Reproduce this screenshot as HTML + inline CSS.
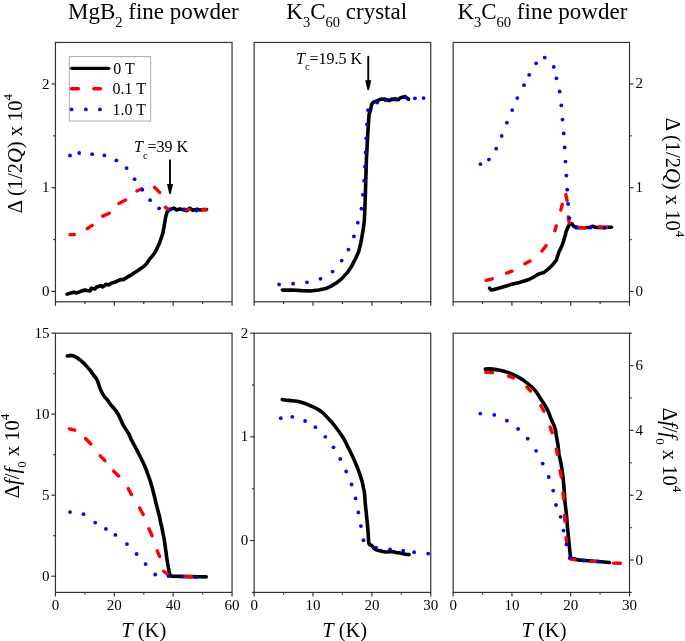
<!DOCTYPE html>
<html><head><meta charset="utf-8"><title>Figure</title>
<style>
html,body{margin:0;padding:0;background:#fff;}
body{width:685px;height:641px;overflow:hidden;}
svg{display:block;font-family:"Liberation Serif", serif;will-change:transform;}
text{fill:#000;}
</style></head>
<body>
<svg width="685" height="641" viewBox="0 0 685 641">
<rect x="0" y="0" width="685" height="641" fill="#fff"/>
<g id="frames">
<rect x="55.45" y="42.45" width="176.6" height="259.35" fill="none" stroke="#333" stroke-width="1.2"/>
<rect x="55.45" y="333.2" width="176.6" height="259.2" fill="none" stroke="#333" stroke-width="1.2"/>
<rect x="254.15" y="42.45" width="176.6" height="259.35" fill="none" stroke="#333" stroke-width="1.2"/>
<rect x="254.15" y="333.2" width="176.6" height="259.2" fill="none" stroke="#333" stroke-width="1.2"/>
<rect x="453.15" y="42.45" width="176.35" height="259.35" fill="none" stroke="#333" stroke-width="1.2"/>
<rect x="453.15" y="333.2" width="176.35" height="259.2" fill="none" stroke="#333" stroke-width="1.2"/>
<line x1="55.45" y1="301.8" x2="55.45" y2="305.8" stroke="#333" stroke-width="1.2" stroke-linecap="butt"/>
<line x1="114.32" y1="301.8" x2="114.32" y2="305.8" stroke="#333" stroke-width="1.2" stroke-linecap="butt"/>
<line x1="173.18" y1="301.8" x2="173.18" y2="305.8" stroke="#333" stroke-width="1.2" stroke-linecap="butt"/>
<line x1="232.05" y1="301.8" x2="232.05" y2="305.8" stroke="#333" stroke-width="1.2" stroke-linecap="butt"/>
<line x1="84.88" y1="301.8" x2="84.88" y2="304.0" stroke="#333" stroke-width="1.2" stroke-linecap="butt"/>
<line x1="143.75" y1="301.8" x2="143.75" y2="304.0" stroke="#333" stroke-width="1.2" stroke-linecap="butt"/>
<line x1="202.62" y1="301.8" x2="202.62" y2="304.0" stroke="#333" stroke-width="1.2" stroke-linecap="butt"/>
<line x1="254.15" y1="301.8" x2="254.15" y2="305.8" stroke="#333" stroke-width="1.2" stroke-linecap="butt"/>
<line x1="313.02" y1="301.8" x2="313.02" y2="305.8" stroke="#333" stroke-width="1.2" stroke-linecap="butt"/>
<line x1="371.88" y1="301.8" x2="371.88" y2="305.8" stroke="#333" stroke-width="1.2" stroke-linecap="butt"/>
<line x1="430.75" y1="301.8" x2="430.75" y2="305.8" stroke="#333" stroke-width="1.2" stroke-linecap="butt"/>
<line x1="283.58" y1="301.8" x2="283.58" y2="304.0" stroke="#333" stroke-width="1.2" stroke-linecap="butt"/>
<line x1="342.45" y1="301.8" x2="342.45" y2="304.0" stroke="#333" stroke-width="1.2" stroke-linecap="butt"/>
<line x1="401.32" y1="301.8" x2="401.32" y2="304.0" stroke="#333" stroke-width="1.2" stroke-linecap="butt"/>
<line x1="453.15" y1="301.8" x2="453.15" y2="305.8" stroke="#333" stroke-width="1.2" stroke-linecap="butt"/>
<line x1="511.93" y1="301.8" x2="511.93" y2="305.8" stroke="#333" stroke-width="1.2" stroke-linecap="butt"/>
<line x1="570.72" y1="301.8" x2="570.72" y2="305.8" stroke="#333" stroke-width="1.2" stroke-linecap="butt"/>
<line x1="629.5" y1="301.8" x2="629.5" y2="305.8" stroke="#333" stroke-width="1.2" stroke-linecap="butt"/>
<line x1="482.54" y1="301.8" x2="482.54" y2="304.0" stroke="#333" stroke-width="1.2" stroke-linecap="butt"/>
<line x1="541.33" y1="301.8" x2="541.33" y2="304.0" stroke="#333" stroke-width="1.2" stroke-linecap="butt"/>
<line x1="600.11" y1="301.8" x2="600.11" y2="304.0" stroke="#333" stroke-width="1.2" stroke-linecap="butt"/>
<line x1="55.45" y1="592.4" x2="55.45" y2="596.4" stroke="#333" stroke-width="1.2" stroke-linecap="butt"/>
<text x="55.45" y="609.7" font-size="15" text-anchor="middle" >0</text>
<line x1="114.32" y1="592.4" x2="114.32" y2="596.4" stroke="#333" stroke-width="1.2" stroke-linecap="butt"/>
<text x="114.32" y="609.7" font-size="15" text-anchor="middle" >20</text>
<line x1="173.18" y1="592.4" x2="173.18" y2="596.4" stroke="#333" stroke-width="1.2" stroke-linecap="butt"/>
<text x="173.18" y="609.7" font-size="15" text-anchor="middle" >40</text>
<line x1="232.05" y1="592.4" x2="232.05" y2="596.4" stroke="#333" stroke-width="1.2" stroke-linecap="butt"/>
<text x="232.05" y="609.7" font-size="15" text-anchor="middle" >60</text>
<line x1="84.88" y1="592.4" x2="84.88" y2="594.6" stroke="#333" stroke-width="1.2" stroke-linecap="butt"/>
<line x1="143.75" y1="592.4" x2="143.75" y2="594.6" stroke="#333" stroke-width="1.2" stroke-linecap="butt"/>
<line x1="202.62" y1="592.4" x2="202.62" y2="594.6" stroke="#333" stroke-width="1.2" stroke-linecap="butt"/>
<line x1="254.15" y1="592.4" x2="254.15" y2="596.4" stroke="#333" stroke-width="1.2" stroke-linecap="butt"/>
<text x="254.15" y="609.7" font-size="15" text-anchor="middle" >0</text>
<line x1="313.02" y1="592.4" x2="313.02" y2="596.4" stroke="#333" stroke-width="1.2" stroke-linecap="butt"/>
<text x="313.02" y="609.7" font-size="15" text-anchor="middle" >10</text>
<line x1="371.88" y1="592.4" x2="371.88" y2="596.4" stroke="#333" stroke-width="1.2" stroke-linecap="butt"/>
<text x="371.88" y="609.7" font-size="15" text-anchor="middle" >20</text>
<line x1="430.75" y1="592.4" x2="430.75" y2="596.4" stroke="#333" stroke-width="1.2" stroke-linecap="butt"/>
<text x="430.75" y="609.7" font-size="15" text-anchor="middle" >30</text>
<line x1="283.58" y1="592.4" x2="283.58" y2="594.6" stroke="#333" stroke-width="1.2" stroke-linecap="butt"/>
<line x1="342.45" y1="592.4" x2="342.45" y2="594.6" stroke="#333" stroke-width="1.2" stroke-linecap="butt"/>
<line x1="401.32" y1="592.4" x2="401.32" y2="594.6" stroke="#333" stroke-width="1.2" stroke-linecap="butt"/>
<line x1="453.15" y1="592.4" x2="453.15" y2="596.4" stroke="#333" stroke-width="1.2" stroke-linecap="butt"/>
<text x="453.15" y="609.7" font-size="15" text-anchor="middle" >0</text>
<line x1="511.93" y1="592.4" x2="511.93" y2="596.4" stroke="#333" stroke-width="1.2" stroke-linecap="butt"/>
<text x="511.93" y="609.7" font-size="15" text-anchor="middle" >10</text>
<line x1="570.72" y1="592.4" x2="570.72" y2="596.4" stroke="#333" stroke-width="1.2" stroke-linecap="butt"/>
<text x="570.72" y="609.7" font-size="15" text-anchor="middle" >20</text>
<line x1="629.5" y1="592.4" x2="629.5" y2="596.4" stroke="#333" stroke-width="1.2" stroke-linecap="butt"/>
<text x="629.5" y="609.7" font-size="15" text-anchor="middle" >30</text>
<line x1="482.54" y1="592.4" x2="482.54" y2="594.6" stroke="#333" stroke-width="1.2" stroke-linecap="butt"/>
<line x1="541.33" y1="592.4" x2="541.33" y2="594.6" stroke="#333" stroke-width="1.2" stroke-linecap="butt"/>
<line x1="600.11" y1="592.4" x2="600.11" y2="594.6" stroke="#333" stroke-width="1.2" stroke-linecap="butt"/>
<line x1="55.45" y1="291.43" x2="51.45" y2="291.43" stroke="#333" stroke-width="1.2" stroke-linecap="butt"/>
<text x="49.45" y="296.03" font-size="15" text-anchor="end" >0</text>
<line x1="55.45" y1="187.69" x2="51.45" y2="187.69" stroke="#333" stroke-width="1.2" stroke-linecap="butt"/>
<text x="49.45" y="192.29" font-size="15" text-anchor="end" >1</text>
<line x1="55.45" y1="83.95" x2="51.45" y2="83.95" stroke="#333" stroke-width="1.2" stroke-linecap="butt"/>
<text x="49.45" y="88.55" font-size="15" text-anchor="end" >2</text>
<line x1="55.45" y1="239.56" x2="53.25" y2="239.56" stroke="#333" stroke-width="1.2" stroke-linecap="butt"/>
<line x1="55.45" y1="135.82" x2="53.25" y2="135.82" stroke="#333" stroke-width="1.2" stroke-linecap="butt"/>
<line x1="629.5" y1="291.43" x2="633.5" y2="291.43" stroke="#333" stroke-width="1.2" stroke-linecap="butt"/>
<text x="635.4" y="295.93" font-size="15" text-anchor="start" >0</text>
<line x1="629.5" y1="187.69" x2="633.5" y2="187.69" stroke="#333" stroke-width="1.2" stroke-linecap="butt"/>
<text x="635.4" y="192.19" font-size="15" text-anchor="start" >1</text>
<line x1="629.5" y1="83.95" x2="633.5" y2="83.95" stroke="#333" stroke-width="1.2" stroke-linecap="butt"/>
<text x="635.4" y="88.45" font-size="15" text-anchor="start" >2</text>
<line x1="629.5" y1="239.56" x2="631.7" y2="239.56" stroke="#333" stroke-width="1.2" stroke-linecap="butt"/>
<line x1="629.5" y1="135.82" x2="631.7" y2="135.82" stroke="#333" stroke-width="1.2" stroke-linecap="butt"/>
<line x1="55.45" y1="576.2" x2="51.45" y2="576.2" stroke="#333" stroke-width="1.2" stroke-linecap="butt"/>
<text x="49.45" y="580.8" font-size="15" text-anchor="end" >0</text>
<line x1="55.45" y1="495.2" x2="51.45" y2="495.2" stroke="#333" stroke-width="1.2" stroke-linecap="butt"/>
<text x="49.45" y="499.8" font-size="15" text-anchor="end" >5</text>
<line x1="55.45" y1="414.2" x2="51.45" y2="414.2" stroke="#333" stroke-width="1.2" stroke-linecap="butt"/>
<text x="49.45" y="418.8" font-size="15" text-anchor="end" >10</text>
<line x1="55.45" y1="333.2" x2="51.45" y2="333.2" stroke="#333" stroke-width="1.2" stroke-linecap="butt"/>
<text x="49.45" y="337.8" font-size="15" text-anchor="end" >15</text>
<line x1="55.45" y1="535.7" x2="53.25" y2="535.7" stroke="#333" stroke-width="1.2" stroke-linecap="butt"/>
<line x1="55.45" y1="454.7" x2="53.25" y2="454.7" stroke="#333" stroke-width="1.2" stroke-linecap="butt"/>
<line x1="55.45" y1="373.7" x2="53.25" y2="373.7" stroke="#333" stroke-width="1.2" stroke-linecap="butt"/>
<line x1="254.15" y1="540.56" x2="250.15" y2="540.56" stroke="#333" stroke-width="1.2" stroke-linecap="butt"/>
<text x="248.15" y="545.16" font-size="15" text-anchor="end" >0</text>
<line x1="254.15" y1="436.88" x2="250.15" y2="436.88" stroke="#333" stroke-width="1.2" stroke-linecap="butt"/>
<text x="248.15" y="441.48" font-size="15" text-anchor="end" >1</text>
<line x1="254.15" y1="333.2" x2="250.15" y2="333.2" stroke="#333" stroke-width="1.2" stroke-linecap="butt"/>
<text x="248.15" y="337.8" font-size="15" text-anchor="end" >2</text>
<line x1="254.15" y1="592.4" x2="251.95" y2="592.4" stroke="#333" stroke-width="1.2" stroke-linecap="butt"/>
<line x1="254.15" y1="488.72" x2="251.95" y2="488.72" stroke="#333" stroke-width="1.2" stroke-linecap="butt"/>
<line x1="254.15" y1="385.04" x2="251.95" y2="385.04" stroke="#333" stroke-width="1.2" stroke-linecap="butt"/>
<line x1="629.5" y1="560.0" x2="633.5" y2="560.0" stroke="#333" stroke-width="1.2" stroke-linecap="butt"/>
<text x="635.4" y="564.5" font-size="15" text-anchor="start" >0</text>
<line x1="629.5" y1="495.2" x2="633.5" y2="495.2" stroke="#333" stroke-width="1.2" stroke-linecap="butt"/>
<text x="635.4" y="499.7" font-size="15" text-anchor="start" >2</text>
<line x1="629.5" y1="430.4" x2="633.5" y2="430.4" stroke="#333" stroke-width="1.2" stroke-linecap="butt"/>
<text x="635.4" y="434.9" font-size="15" text-anchor="start" >4</text>
<line x1="629.5" y1="365.6" x2="633.5" y2="365.6" stroke="#333" stroke-width="1.2" stroke-linecap="butt"/>
<text x="635.4" y="370.1" font-size="15" text-anchor="start" >6</text>
<line x1="629.5" y1="592.4" x2="631.7" y2="592.4" stroke="#333" stroke-width="1.2" stroke-linecap="butt"/>
<line x1="629.5" y1="527.6" x2="631.7" y2="527.6" stroke="#333" stroke-width="1.2" stroke-linecap="butt"/>
<line x1="629.5" y1="462.8" x2="631.7" y2="462.8" stroke="#333" stroke-width="1.2" stroke-linecap="butt"/>
<line x1="629.5" y1="398.0" x2="631.7" y2="398.0" stroke="#333" stroke-width="1.2" stroke-linecap="butt"/>
<line x1="629.5" y1="333.2" x2="631.7" y2="333.2" stroke="#333" stroke-width="1.2" stroke-linecap="butt"/>
</g>
<g id="titles">
<text x="68.0" y="19.2" font-size="23" text-anchor="start" >MgB<tspan font-size="14.5" dy="8.2">2</tspan><tspan dy="-8.2"> fine powder</tspan></text>
<text x="286.3" y="19.2" font-size="23" text-anchor="start" >K<tspan font-size="14.5" dy="8.2">3</tspan><tspan dy="-8.2">C</tspan><tspan font-size="14.5" dy="8.2">60</tspan><tspan dy="-8.2"> crystal</tspan></text>
<text x="457.4" y="19.2" font-size="23" text-anchor="start" >K<tspan font-size="14.5" dy="8.2">3</tspan><tspan dy="-8.2">C</tspan><tspan font-size="14.5" dy="8.2">60</tspan><tspan dy="-8.2"> fine powder</tspan></text>
<text x="143.75" y="636.5" font-size="20.5" text-anchor="middle" ><tspan font-style="italic">T</tspan> (K)</text>
<text x="344.65" y="636.5" font-size="20.5" text-anchor="middle" ><tspan font-style="italic">T</tspan> (K)</text>
<text x="544.03" y="636.5" font-size="20.5" text-anchor="middle" ><tspan font-style="italic">T</tspan> (K)</text>
<text transform="translate(22.4,153.6) rotate(-90)" font-size="20.5" text-anchor="middle">&#916; (1/2<tspan font-style="italic">Q</tspan>) x 10<tspan font-size="13" dy="-10">4</tspan></text>
<text transform="translate(666,177.5) rotate(90)" font-size="20.5" text-anchor="middle">&#916; (1/2<tspan font-style="italic">Q</tspan>) x 10<tspan font-size="13" dy="-10">4</tspan></text>
<text transform="translate(18.7,456) rotate(-90)" font-size="20.5" text-anchor="middle">&#916;<tspan font-style="italic">f</tspan>/<tspan font-style="italic">f</tspan><tspan font-size="13" dy="7.5">0</tspan><tspan dy="-7.5"> x 10</tspan><tspan font-size="13" dy="-10">4</tspan></text>
<text transform="translate(663,450) rotate(90)" font-size="20.5" text-anchor="middle">&#916;<tspan font-style="italic">f</tspan>/<tspan font-style="italic">f</tspan><tspan font-size="13" dy="7.5">0</tspan><tspan dy="-7.5"> x 10</tspan><tspan font-size="13" dy="-10">4</tspan></text>
</g>
<g id="legend">
<rect x="69.3" y="56.6" width="81.4" height="64.4" fill="none" stroke="#aaa" stroke-width="1.0"/>
<line x1="71.6" y1="68.35" x2="108.8" y2="68.35" stroke="#000" stroke-width="3.3" stroke-linecap="round"/>
<line x1="71.45" y1="88.75" x2="78.4" y2="88.75" stroke="#f00" stroke-width="3.4" stroke-linecap="round"/>
<line x1="93.8" y1="88.75" x2="100.55" y2="88.75" stroke="#f00" stroke-width="3.4" stroke-linecap="round"/>
<circle cx="71.6" cy="109.4" r="1.9" fill="#00f"/>
<circle cx="85.9" cy="109.4" r="1.9" fill="#00f"/>
<circle cx="99.9" cy="109.4" r="1.9" fill="#00f"/>
<text x="113.2" y="73.9" font-size="16" text-anchor="start" >0 T</text>
<text x="112.6" y="94.4" font-size="16" text-anchor="start" >0.1 T</text>
<text x="112.6" y="114.6" font-size="16" text-anchor="start" >1.0 T</text>
</g>
<g id="tc">
<text x="134.0" y="152.3" font-size="16" text-anchor="start" ><tspan font-style="italic">T</tspan><tspan font-size="10.5" dy="6.3">c</tspan><tspan dy="-6.3">=39 K</tspan></text>
<line x1="170.0" y1="160.2" x2="170.0" y2="186" stroke="#000" stroke-width="1.9" stroke-linecap="round"/>
<path d="M167,184.1 L173,184.1 L170.7,193.9 L169.3,193.9 Z" fill="#000"/>
<text x="296.0" y="64.1" font-size="16" text-anchor="start" ><tspan font-style="italic">T</tspan><tspan font-size="10.5" dy="6.3">c</tspan><tspan dy="-6.3">=19.5 K</tspan></text>
<line x1="368.25" y1="56.8" x2="368.25" y2="82" stroke="#000" stroke-width="1.9" stroke-linecap="round"/>
<path d="M365.2,80.2 L371.3,80.2 L369,90 L367.5,90 Z" fill="#000"/>
</g>
<g id="data">
<polyline points="67.1,294.1 70.0,293.2 73.7,292.3 76.2,293.0 79.5,291.9 83.9,290.1 86.8,290.4 90.1,291.0 91.2,288.4 94.8,289.0 96.3,287.3 100.7,285.7 102.9,286.9 105.8,284.3 108.7,284.9 111.8,283.0 115.3,282.1 120.4,279.6 123.3,279.6 127.0,277.4 131.4,274.8 135.7,271.9 140.1,269.0 143.8,266.4 146.7,263.5 149.6,259.1 152.5,255.8 155.1,252.2 156.5,249.5 159.2,243.8 161.3,237.8 163.0,232.6 163.9,227.5 164.9,221.5 166.0,215.5 167.5,211.2 169.9,209.4 173.8,208.1 176.7,210.0 179.6,208.9 182.5,209.6 186.9,210.7 189.8,208.1 192.7,210.3 197.1,209.2 200.0,210.0 203.0,209.6 206.6,209.6" fill="none" stroke="#000" stroke-width="3.6" stroke-linejoin="round" stroke-linecap="round"/>
<line x1="70.0" y1="234.59" x2="74.4" y2="234.51" stroke="#f00" stroke-width="3.4" stroke-linecap="round"/>
<line x1="87.19" y1="228.59" x2="92.21" y2="225.41" stroke="#f00" stroke-width="3.4" stroke-linecap="round"/>
<line x1="102.67" y1="216.14" x2="109.28" y2="213.26" stroke="#f00" stroke-width="3.4" stroke-linecap="round"/>
<line x1="118.95" y1="203.42" x2="125.55" y2="199.98" stroke="#f00" stroke-width="3.4" stroke-linecap="round"/>
<line x1="136.87" y1="190.94" x2="141.83" y2="188.76" stroke="#f00" stroke-width="3.4" stroke-linecap="round"/>
<line x1="154.58" y1="187.38" x2="159.72" y2="192.52" stroke="#f00" stroke-width="3.4" stroke-linecap="round"/>
<line x1="165.33" y1="207.23" x2="168.27" y2="209.27" stroke="#f00" stroke-width="3.4" stroke-linecap="round"/>
<line x1="183.9" y1="209.51" x2="189.4" y2="209.59" stroke="#f00" stroke-width="3.4" stroke-linecap="round"/>
<line x1="202.4" y1="209.6" x2="206.3" y2="209.6" stroke="#f00" stroke-width="3.4" stroke-linecap="round"/>
<circle cx="70.0" cy="155.5" r="1.9" fill="#00f"/>
<circle cx="79.2" cy="153.0" r="1.9" fill="#00f"/>
<circle cx="92.2" cy="154.2" r="1.9" fill="#00f"/>
<circle cx="104.4" cy="155.4" r="1.9" fill="#00f"/>
<circle cx="116.4" cy="160.4" r="1.9" fill="#00f"/>
<circle cx="126.6" cy="168.1" r="1.9" fill="#00f"/>
<circle cx="134.6" cy="179.2" r="1.9" fill="#00f"/>
<circle cx="142.3" cy="189.8" r="1.9" fill="#00f"/>
<circle cx="150.1" cy="200.2" r="1.9" fill="#00f"/>
<circle cx="159.1" cy="208.3" r="1.9" fill="#00f"/>
<circle cx="170.6" cy="209.6" r="1.9" fill="#00f"/>
<circle cx="184.3" cy="209.3" r="1.9" fill="#00f"/>
<circle cx="196.5" cy="210.5" r="1.9" fill="#00f"/>
<polyline points="282.4,290.1 292.5,290.0 301.3,290.6 310.0,291.0 318.8,290.0 325.8,288.6 331.1,286.1 336.6,282.8 342.0,278.4 347.5,272.4 351.8,265.9 355.7,258.2 358.6,251.7 360.6,244.0 362.0,236.4 363.3,228.7 364.4,220.0 365.2,200.0 365.8,180.0 366.4,160.0 367.5,139.1 368.3,124.9 369.1,114.0 370.6,110.0 371.6,104.5 373.2,102.2 376.1,101.3 380.5,99.2 384.9,99.1 389.3,100.6 391.9,99.1 395.4,99.4 398.0,99.8 400.6,97.7 405.0,96.6 408.5,99.3" fill="none" stroke="#000" stroke-width="3.6" stroke-linejoin="round" stroke-linecap="round"/>
<circle cx="279.1" cy="284.4" r="1.9" fill="#00f"/>
<circle cx="293.1" cy="283.7" r="1.9" fill="#00f"/>
<circle cx="307" cy="282.3" r="1.9" fill="#00f"/>
<circle cx="320.5" cy="278.8" r="1.9" fill="#00f"/>
<circle cx="332.6" cy="271.6" r="1.9" fill="#00f"/>
<circle cx="341.7" cy="260.6" r="1.9" fill="#00f"/>
<circle cx="348.4" cy="249.6" r="1.9" fill="#00f"/>
<circle cx="353.9" cy="236.4" r="1.9" fill="#00f"/>
<circle cx="357.8" cy="222.7" r="1.9" fill="#00f"/>
<circle cx="361.4" cy="208.7" r="1.9" fill="#00f"/>
<circle cx="362.9" cy="194.7" r="1.9" fill="#00f"/>
<circle cx="364.1" cy="180.7" r="1.9" fill="#00f"/>
<circle cx="364.9" cy="166.7" r="1.9" fill="#00f"/>
<circle cx="365.6" cy="152.5" r="1.9" fill="#00f"/>
<circle cx="366.3" cy="138.3" r="1.9" fill="#00f"/>
<circle cx="366.9" cy="124.3" r="1.9" fill="#00f"/>
<circle cx="368.0" cy="110.2" r="1.9" fill="#00f"/>
<circle cx="377.2" cy="102.5" r="1.9" fill="#00f"/>
<circle cx="385.6" cy="100.3" r="1.9" fill="#00f"/>
<circle cx="395.4" cy="98.6" r="1.9" fill="#00f"/>
<circle cx="405.5" cy="97.2" r="1.9" fill="#00f"/>
<circle cx="414.9" cy="98.3" r="1.9" fill="#00f"/>
<circle cx="423.6" cy="98.1" r="1.9" fill="#00f"/>
<polyline points="489.6,288.2 491.0,290.0 493.1,289.8 501.9,287.2 510.6,284.6 519.4,282.4 528.2,279.8 531.9,278.0 536.6,275.2 540.3,273.4 544.0,272.4 548.7,268.7 552.5,264.9 556.2,260.3 558.1,254.6 559.0,251.8 560.9,248.1 562.8,243.4 564.2,238.7 565.4,235.0 565.6,233.1 567.0,229.4 569.3,224.7 571.7,223.7 574.0,226.6 578.0,227.6 584.0,227.8 590.0,227.3 592.6,226.2 596.0,227.5 600.0,227.4 604.0,227.8 608.0,227.2 611.6,227.3" fill="none" stroke="#000" stroke-width="3.6" stroke-linejoin="round" stroke-linecap="round"/>
<line x1="486.09" y1="280.4" x2="492.31" y2="278.8" stroke="#f00" stroke-width="3.4" stroke-linecap="round"/>
<line x1="506.68" y1="273.06" x2="512.02" y2="271.14" stroke="#f00" stroke-width="3.4" stroke-linecap="round"/>
<line x1="524.85" y1="263.81" x2="530.05" y2="261.09" stroke="#f00" stroke-width="3.4" stroke-linecap="round"/>
<line x1="541.94" y1="251.08" x2="546.16" y2="245.62" stroke="#f00" stroke-width="3.4" stroke-linecap="round"/>
<line x1="554.82" y1="230.72" x2="556.28" y2="225.88" stroke="#f00" stroke-width="3.4" stroke-linecap="round"/>
<line x1="560.8" y1="210.11" x2="562.3" y2="204.29" stroke="#f00" stroke-width="3.4" stroke-linecap="round"/>
<line x1="565.79" y1="194.59" x2="567.11" y2="200.61" stroke="#f00" stroke-width="3.4" stroke-linecap="round"/>
<line x1="568.26" y1="216.89" x2="569.24" y2="222.91" stroke="#f00" stroke-width="3.4" stroke-linecap="round"/>
<line x1="579.2" y1="227.42" x2="584.9" y2="227.78" stroke="#f00" stroke-width="3.4" stroke-linecap="round"/>
<line x1="599.6" y1="227.01" x2="606.8" y2="227.29" stroke="#f00" stroke-width="3.4" stroke-linecap="round"/>
<circle cx="480.4" cy="164.1" r="1.9" fill="#00f"/>
<circle cx="488.9" cy="159.6" r="1.9" fill="#00f"/>
<circle cx="496.2" cy="148.7" r="1.9" fill="#00f"/>
<circle cx="501.7" cy="135.9" r="1.9" fill="#00f"/>
<circle cx="506.9" cy="122.7" r="1.9" fill="#00f"/>
<circle cx="512.2" cy="110.1" r="1.9" fill="#00f"/>
<circle cx="517.3" cy="98.1" r="1.9" fill="#00f"/>
<circle cx="524" cy="85.2" r="1.9" fill="#00f"/>
<circle cx="529.2" cy="74.8" r="1.9" fill="#00f"/>
<circle cx="536.1" cy="63.3" r="1.9" fill="#00f"/>
<circle cx="544.7" cy="57.6" r="1.9" fill="#00f"/>
<circle cx="553.8" cy="66.9" r="1.9" fill="#00f"/>
<circle cx="556.4" cy="78.3" r="1.9" fill="#00f"/>
<circle cx="559.7" cy="91.5" r="1.9" fill="#00f"/>
<circle cx="561.3" cy="105.4" r="1.9" fill="#00f"/>
<circle cx="562.5" cy="119.6" r="1.9" fill="#00f"/>
<circle cx="563.7" cy="133.4" r="1.9" fill="#00f"/>
<circle cx="564.7" cy="147.4" r="1.9" fill="#00f"/>
<circle cx="565.5" cy="161.6" r="1.9" fill="#00f"/>
<circle cx="566.4" cy="175.6" r="1.9" fill="#00f"/>
<circle cx="567.2" cy="189.7" r="1.9" fill="#00f"/>
<circle cx="568.1" cy="204" r="1.9" fill="#00f"/>
<circle cx="569.5" cy="218.1" r="1.9" fill="#00f"/>
<circle cx="576.2" cy="227.7" r="1.9" fill="#00f"/>
<circle cx="590.2" cy="227.7" r="1.9" fill="#00f"/>
<circle cx="604.4" cy="227.7" r="1.9" fill="#00f"/>
<polyline points="67.3,356.1 70.1,355.4 73.2,355.8 77.0,357.7 80.8,360.5 84.5,363.9 87.6,367.4 90.8,371.1 93.9,375.5 96.4,378.6 98.3,383.0 100.0,388.5 102.2,393.1 104.4,396.6 107.5,400.0 110.0,403.8 113.1,407.5 116.2,411.2 118.6,415.0 120.9,420.0 123.1,425.0 125.9,429.4 128.8,433.8 130.9,438.8 133.8,444.4 136.7,449.6 140.0,456.2 143.1,462.5 145.9,468.8 148.1,475.0 150.3,481.2 152.4,488.5 154.7,497.5 156.2,503.8 157.8,510.0 159.4,516.2 160.6,522.5 161.6,526.2 162.8,532.5 164.1,538.8 165.0,545.0 165.9,551.2 166.7,557.5 167.7,563.8 169.0,570.8 170.1,575.6 172.0,576.3 180.0,576.4 190.0,576.6 200.0,576.8 206.2,576.9" fill="none" stroke="#000" stroke-width="3.6" stroke-linejoin="round" stroke-linecap="round"/>
<line x1="69.39" y1="428.89" x2="74.81" y2="430.21" stroke="#f00" stroke-width="3.4" stroke-linecap="round"/>
<line x1="85.58" y1="438.49" x2="90.82" y2="444.01" stroke="#f00" stroke-width="3.4" stroke-linecap="round"/>
<line x1="100.19" y1="455.88" x2="104.91" y2="460.52" stroke="#f00" stroke-width="3.4" stroke-linecap="round"/>
<line x1="113.69" y1="471.17" x2="118.71" y2="475.93" stroke="#f00" stroke-width="3.4" stroke-linecap="round"/>
<line x1="128.2" y1="488.65" x2="131.5" y2="494.55" stroke="#f00" stroke-width="3.4" stroke-linecap="round"/>
<line x1="139.69" y1="508.05" x2="143.21" y2="514.55" stroke="#f00" stroke-width="3.4" stroke-linecap="round"/>
<line x1="148.87" y1="528.86" x2="152.13" y2="535.64" stroke="#f00" stroke-width="3.4" stroke-linecap="round"/>
<line x1="157.17" y1="550.86" x2="159.73" y2="556.54" stroke="#f00" stroke-width="3.4" stroke-linecap="round"/>
<line x1="163.71" y1="571.25" x2="168.39" y2="575.05" stroke="#f00" stroke-width="3.4" stroke-linecap="round"/>
<line x1="184.9" y1="576.6" x2="191.9" y2="576.6" stroke="#f00" stroke-width="3.4" stroke-linecap="round"/>
<circle cx="70" cy="512.1" r="1.9" fill="#00f"/>
<circle cx="83.5" cy="514.2" r="1.9" fill="#00f"/>
<circle cx="95.2" cy="522.6" r="1.9" fill="#00f"/>
<circle cx="105.9" cy="528.9" r="1.9" fill="#00f"/>
<circle cx="115.4" cy="534.9" r="1.9" fill="#00f"/>
<circle cx="127" cy="544.1" r="1.9" fill="#00f"/>
<circle cx="136.6" cy="554" r="1.9" fill="#00f"/>
<circle cx="145.6" cy="564.1" r="1.9" fill="#00f"/>
<circle cx="155.2" cy="574.5" r="1.9" fill="#00f"/>
<circle cx="168.7" cy="576.2" r="1.9" fill="#00f"/>
<circle cx="182.4" cy="576.6" r="1.9" fill="#00f"/>
<circle cx="196.4" cy="577.1" r="1.9" fill="#00f"/>
<path d="M282.30,399.50 C282.92,399.62 284.53,400.02 286.00,400.20 C287.47,400.38 289.28,400.42 291.10,400.60 C292.92,400.78 294.97,400.93 296.90,401.30 C298.83,401.67 300.88,402.25 302.70,402.80 C304.52,403.35 305.97,403.87 307.80,404.60 C309.63,405.33 311.87,406.32 313.70,407.20 C315.53,408.08 317.42,409.07 318.80,409.90 C320.18,410.73 320.77,411.15 322.00,412.20 C323.23,413.25 324.45,414.38 326.20,416.20 C327.95,418.02 330.42,420.60 332.50,423.10 C334.58,425.60 336.83,428.60 338.70,431.20 C340.57,433.80 342.13,436.00 343.70,438.70 C345.27,441.40 346.63,444.48 348.10,447.40 C349.57,450.32 351.05,453.07 352.50,456.20 C353.95,459.33 355.55,463.08 356.80,466.20 C358.05,469.32 359.10,472.27 360.00,474.90 C360.90,477.53 361.62,479.82 362.20,482.00 C362.78,484.18 363.13,486.25 363.50,488.00 C363.87,489.75 364.12,490.08 364.40,492.50 C364.68,494.92 364.90,499.17 365.20,502.50 C365.50,505.83 365.87,509.18 366.20,512.50 C366.53,515.82 366.88,519.08 367.20,522.40 C367.52,525.72 367.80,528.85 368.10,532.40 C368.40,535.95 368.38,541.52 369.00,543.70 C369.62,545.88 370.80,544.57 371.80,545.50 C372.80,546.43 373.63,548.42 375.00,549.30 C376.37,550.18 378.13,550.35 380.00,550.80 C381.87,551.25 384.15,551.87 386.20,552.00 C388.25,552.13 390.67,551.52 392.30,551.60 C393.93,551.68 394.53,552.23 396.00,552.50 C397.47,552.77 399.53,552.90 401.10,553.20 C402.67,553.50 404.07,554.07 405.40,554.30 C406.73,554.53 408.48,554.55 409.10,554.60" fill="none" stroke="#000" stroke-width="3.6" stroke-linejoin="round" stroke-linecap="round"/>
<circle cx="280.8" cy="418.2" r="1.9" fill="#00f"/>
<circle cx="292.3" cy="416.8" r="1.9" fill="#00f"/>
<circle cx="305.1" cy="421.0" r="1.9" fill="#00f"/>
<circle cx="315.4" cy="427.2" r="1.9" fill="#00f"/>
<circle cx="325.3" cy="436.8" r="1.9" fill="#00f"/>
<circle cx="333.5" cy="447.3" r="1.9" fill="#00f"/>
<circle cx="340.3" cy="458.9" r="1.9" fill="#00f"/>
<circle cx="346.2" cy="471.5" r="1.9" fill="#00f"/>
<circle cx="351.6" cy="484.5" r="1.9" fill="#00f"/>
<circle cx="355.6" cy="498.4" r="1.9" fill="#00f"/>
<circle cx="358.4" cy="512.4" r="1.9" fill="#00f"/>
<circle cx="360.9" cy="526.1" r="1.9" fill="#00f"/>
<circle cx="363.5" cy="540.2" r="1.9" fill="#00f"/>
<circle cx="376" cy="547.7" r="1.9" fill="#00f"/>
<circle cx="390.0" cy="549.3" r="1.9" fill="#00f"/>
<circle cx="403.2" cy="550.7" r="1.9" fill="#00f"/>
<circle cx="414.1" cy="552.2" r="1.9" fill="#00f"/>
<circle cx="428.2" cy="553.6" r="1.9" fill="#00f"/>
<polyline points="485.3,369.1 489.0,368.9 492.6,369.1 496.0,369.6 499.9,370.2 505.0,371.6 510.0,373.1 515.0,375.3 520.0,378.1 523.8,380.6 527.5,383.4 531.2,386.6 535.0,390.2 538.0,394.6 540.6,398.8 543.1,402.5 545.9,406.9 548.4,411.9 550.2,416.7 552.2,421.2 554.1,425.6 555.5,430.3 556.7,437.5 558.1,445.9 559.0,454.3 560.9,462.8 562.3,471.2 563.3,479.6 564.2,490.0 565.0,502.5 566.5,515.0 567.5,527.5 568.7,540.0 570.0,552.4 570.6,557.4 577.5,559.9 585.0,560.5 595.0,561.3 609.5,562.5" fill="none" stroke="#000" stroke-width="3.6" stroke-linejoin="round" stroke-linecap="round"/>
<line x1="485.7" y1="372.41" x2="492.6" y2="372.59" stroke="#f00" stroke-width="3.4" stroke-linecap="round"/>
<line x1="508.47" y1="376.05" x2="513.38" y2="377.95" stroke="#f00" stroke-width="3.4" stroke-linecap="round"/>
<line x1="526.88" y1="387.18" x2="530.62" y2="390.97" stroke="#f00" stroke-width="3.4" stroke-linecap="round"/>
<line x1="540.79" y1="405.65" x2="543.91" y2="411.25" stroke="#f00" stroke-width="3.4" stroke-linecap="round"/>
<line x1="550.13" y1="426.98" x2="552.17" y2="432.72" stroke="#f00" stroke-width="3.4" stroke-linecap="round"/>
<line x1="556.29" y1="449.09" x2="557.51" y2="454.41" stroke="#f00" stroke-width="3.4" stroke-linecap="round"/>
<line x1="560.08" y1="470.69" x2="561.32" y2="476.91" stroke="#f00" stroke-width="3.4" stroke-linecap="round"/>
<line x1="563.04" y1="493.0" x2="563.66" y2="499.0" stroke="#f00" stroke-width="3.4" stroke-linecap="round"/>
<line x1="564.44" y1="515.4" x2="564.96" y2="521.4" stroke="#f00" stroke-width="3.4" stroke-linecap="round"/>
<line x1="566.06" y1="537.79" x2="566.74" y2="542.01" stroke="#f00" stroke-width="3.4" stroke-linecap="round"/>
<line x1="569.69" y1="558.77" x2="575.21" y2="559.83" stroke="#f00" stroke-width="3.4" stroke-linecap="round"/>
<line x1="591.1" y1="561.13" x2="595.5" y2="561.47" stroke="#f00" stroke-width="3.4" stroke-linecap="round"/>
<line x1="613.6" y1="563.11" x2="620.4" y2="563.29" stroke="#f00" stroke-width="3.4" stroke-linecap="round"/>
<circle cx="480.3" cy="413.6" r="1.9" fill="#00f"/>
<circle cx="494.3" cy="414.9" r="1.9" fill="#00f"/>
<circle cx="506.9" cy="420.7" r="1.9" fill="#00f"/>
<circle cx="518.1" cy="428.9" r="1.9" fill="#00f"/>
<circle cx="527.7" cy="438.7" r="1.9" fill="#00f"/>
<circle cx="536.1" cy="450.8" r="1.9" fill="#00f"/>
<circle cx="542.7" cy="463.6" r="1.9" fill="#00f"/>
<circle cx="548.7" cy="477" r="1.9" fill="#00f"/>
<circle cx="553.2" cy="490.6" r="1.9" fill="#00f"/>
<circle cx="556" cy="505" r="1.9" fill="#00f"/>
<circle cx="560.6" cy="516.8" r="1.9" fill="#00f"/>
<circle cx="563.5" cy="530.6" r="1.9" fill="#00f"/>
<circle cx="566.5" cy="544.4" r="1.9" fill="#00f"/>
<circle cx="570" cy="557.5" r="1.9" fill="#00f"/>
<circle cx="583.8" cy="560.5" r="1.9" fill="#00f"/>
<circle cx="598.0" cy="561.5" r="1.9" fill="#00f"/>
</g>
</svg>
</body></html>
